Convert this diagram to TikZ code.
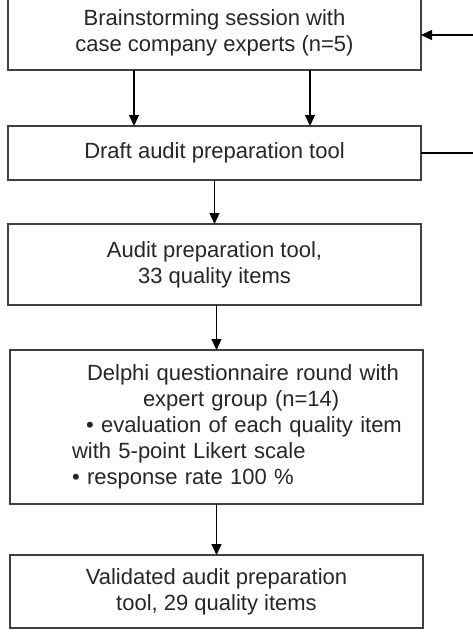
\documentclass[tikz,border=0pt]{standalone}
\usepackage{fontspec}
\setmainfont{Liberation Sans}
\usetikzlibrary{positioning, arrows.meta}

\begin{document}
\begin{tikzpicture}[x=1pt, y=-1pt, line width=1.3pt, >={Triangle[length=11pt, width=10pt]},
  box/.style = {draw=black!75, minimum width=413pt, inner sep=0pt, outer sep=0pt, align=center,
    text=black!85, font=\fontsize{22}{26}\selectfont}]
\useasboundingbox (0,0) rectangle (472,634);

\node[box, minimum height=74pt] (b1) at (214.5,33) {Brainstorming session with\\case company experts (n=5)};
\node[box, minimum height=54pt] (b2) at (214.5,153) {Draft audit preparation tool};
\node[box, minimum height=81pt] (b3) at (214.5,264.5) {Audit preparation tool,\\33 quality items};
\node[box, minimum height=154pt, text width=413pt, align=left] (b4) at (216.5,427)
  {\hspace*{77pt}Delphi questionnaire round with\\
   \hspace*{133pt}expert group (n=14)\\
   \hspace*{76pt}\textbullet{} evaluation of each quality item\\
   \hspace*{62pt}with 5-point Likert scale\\
   \hspace*{62pt}\textbullet{} response rate 100 \%};
\node[box, minimum height=73pt] (b5) at (216.5,591.5) {Validated audit preparation\\tool, 29 quality items};

% feedback loop leaving the frame
\coordinate (fbout) at (480,153);
\coordinate (fbin) at (480,35);

\draw[->] ([xshift=-80.5pt]b1.south) -- ([xshift=-80.5pt]b2.north);
\draw[->] ([xshift=95.5pt]b1.south) -- ([xshift=95.5pt]b2.north);
\draw[->] (b2.south) -- (b3.north);
\draw[->] (b3.south -| b4.north) -- (b4.north);
\draw[->] (b4.south) -- (b5.north);
\draw (b2.east) -- (b2.east -| fbout);
\draw[->] (fbin) -- (fbin -| b1.east);
\end{tikzpicture}
\end{document}
